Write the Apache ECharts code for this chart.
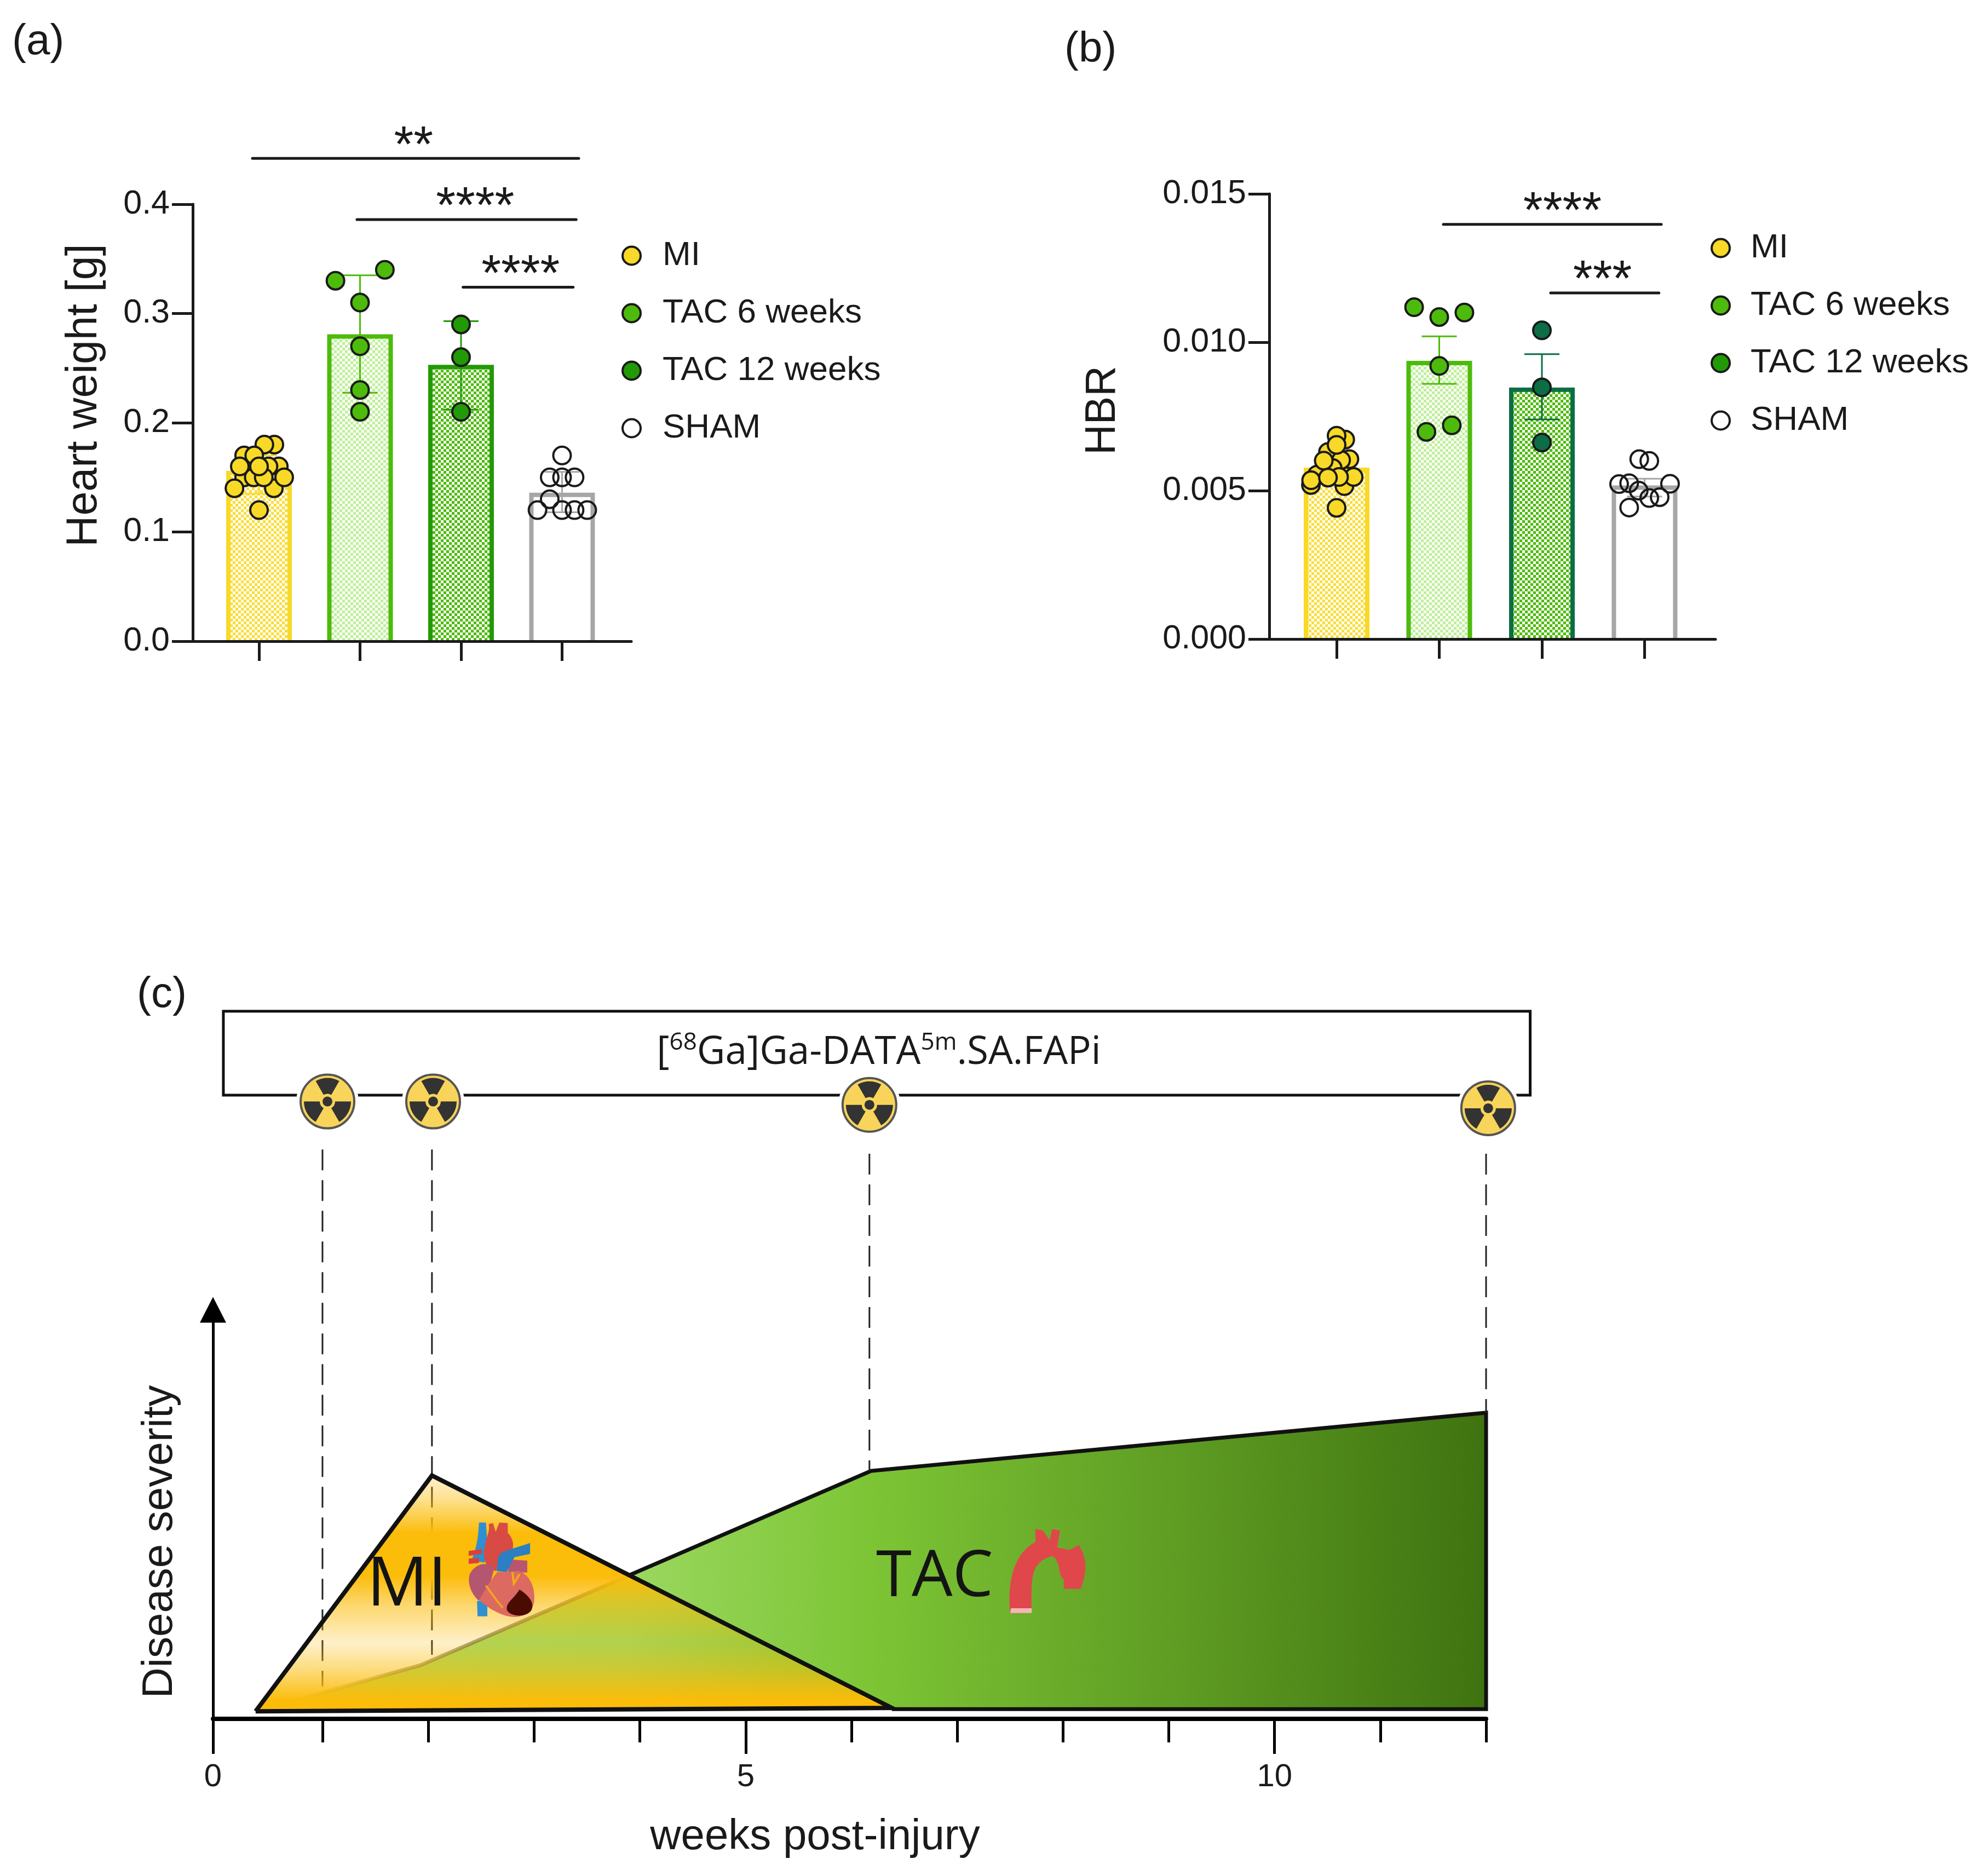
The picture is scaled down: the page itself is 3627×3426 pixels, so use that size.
<!DOCTYPE html>
<html><head><meta charset="utf-8">
<style>html,body{margin:0;padding:0;background:#fff}#c{width:3627px;height:3426px}</style>
<script src="https://cdn.jsdelivr.net/npm/echarts@6/dist/echarts.min.js"></script>
</head><body><div id="c"></div>
<script>
// ---------- data ----------
const groupNames = ['MI', 'TAC 6 weeks', 'TAC 12 weeks', 'SHAM'];
const groupX = [1, 2, 3, 4];

const heartMeans = [0.154, 0.279, 0.251, 0.134];
const heartLow = [0.135, 0.2275, 0.212, 0.118];
const heartHigh = [0.17, 0.335, 0.293, 0.155];
const heartMI = [[1.147,0.14],[1.196,0.16],[1.094,0.16],[0.853,0.15],[0.948,0.15],[1.047,0.15],[1.249,0.15],[1.152,0.18],[1.053,0.18],[0.853,0.17],[0.953,0.17],[0.81,0.16],[1.0,0.16],[0.757,0.14],[1.0,0.12]];
const heartTAC6 = [[1.757,0.33],[2.246,0.34],[2,0.31],[2,0.27],[2,0.23],[2,0.21]];
const heartTAC12 = [[3,0.29],[3,0.26],[3,0.21]];
const heartSHAM = [[4,0.17],[3.878,0.15],[4,0.15],[4.124,0.15],[3.878,0.13],[3.757,0.12],[4,0.12],[4.124,0.12],[4.249,0.12]];

const hbrMeans = [0.0057, 0.0093, 0.0084, 0.0051];
const hbrLow = [0.0054, 0.0086, 0.0074, 0.0048];
const hbrHigh = [0.006, 0.0102, 0.0096, 0.0054];
const hbrMI = [[0.75,0.00519],[1.076,0.00515],[1.166,0.00546],[1.125,0.00606],[1.084,0.00672],[0.916,0.0063],[1.044,0.00603],[0.962,0.00576],[0.81,0.00554],[1,0.00685],[1,0.00654],[0.875,0.00601],[1.024,0.00546],[0.752,0.00535],[0.916,0.00544],[1,0.00442]];
const hbrTAC6 = [[1.755,0.01118],[2,0.01085],[2.245,0.011],[2,0.0092],[1.875,0.00698],[2.122,0.0072]];
const hbrTAC12 = [[3,0.0104],[3,0.00848],[3,0.00662]];
const hbrSHAM = [[3.948,0.00606],[4.046,0.006],[4.248,0.00523],[3.752,0.00522],[3.85,0.00525],[3.943,0.005],[4.046,0.00475],[4.147,0.00478],[3.85,0.00443]];

const heartSig = [[0.935,4.165,0.442,2.53,'**'],[1.97,4.14,0.386,3.14,'****'],[3.02,4.11,0.324,3.59,'****']];
const hbrSig = [[2.04,4.163,0.01397,3.2,'****'],[3.085,4.14,0.01166,3.59,'***']];

const miCurve = [[0.367,1.8],[2.034,57.7],[6.382,2.6],[0.367,1.8]];
const tacCurve = [[0.367,1.8],[1.925,12.7],[6.185,58.8],[12,72.6],[12,2.3],[6.382,2.3]];
const doseWeeks = [0.999, 2.034, 6.17, 12];
const doseTop = [135, 135, 134, 134];
const doseBottom = [7.7, 15.2, 58.8, 72.6];
const iconWeeks = [1.046, 2.045, 6.17, 12.02];
const iconSeverity = [146.4, 146.4, 145.6, 144.8];
const boxWeeks = [0.062, 12.417];
const boxSeverity = [147.9, 167.8];
const weekAxisStart = -0.036;
const weekMajor = [weekAxisStart, 5, 10];
const weekMinor = [1, 2, 3, 4, 6, 7, 8, 9, 11, 12];

// ---------- styling helpers ----------
const FONT = '"Liberation Sans", Arial, sans-serif';
const INK = '#1a1a1a';
const colors = {MI:'#F8D927', T6:'#4DBB0B', T12:'#229A06', T12b:'#0B6E45', SHAM:'#A6A6A6'};

function checker(fg) {
  const s = 5, cv = document.createElement('canvas');
  cv.width = cv.height = s * 2;
  const g = cv.getContext('2d');
  g.fillStyle = '#fff'; g.fillRect(0, 0, s * 2, s * 2);
  g.fillStyle = fg; g.fillRect(0, 0, s, s); g.fillRect(s, s, s, s);
  return {image: cv, repeat: 'repeat'};
}
const fills = [checker('#F9DE3A'), checker('#BFF09A'), checker('#4DBB0B'), '#ffffff'];

function barSeries(idx, means) {
  return {
    type: 'bar', name: 'bars' + idx, xAxisIndex: idx, yAxisIndex: idx, barWidth: 112, z: 1,
    data: means.map((v, i) => ({value: [groupX[i], v], itemStyle: {color: fills[i]}}))
  };
}
// three-sided bar outline: the bars have no baseline edge in the figure
function outlineSeries(idx, means, edgeColors) {
  return {
    type: 'custom', name: 'outline' + idx, xAxisIndex: idx, yAxisIndex: idx, z: 2,
    data: means.map((v, i) => [groupX[i], v]),
    encode: {x: 0, y: 1},
    renderItem(params, api) {
      const t = api.coord([api.value(0), api.value(1)]), b = api.coord([api.value(0), 0]);
      return {type: 'polyline', shape: {points: [[t[0] - 56, b[1]], [t[0] - 56, t[1]], [t[0] + 56, t[1]], [t[0] + 56, b[1]]]},
        style: {fill: 'none', stroke: edgeColors[params.dataIndex], lineWidth: 8}};
    }
  };
}
function errSeries(idx, lows, highs, edgeColors) {
  return {
    type: 'custom', name: 'error' + idx, xAxisIndex: idx, yAxisIndex: idx, z: 3,
    data: lows.map((l, i) => [groupX[i], l, highs[i]]),
    encode: {x: 0, y: [1, 2]},
    renderItem(params, api) {
      const x = api.value(0), a = api.coord([x, api.value(1)]), b = api.coord([x, api.value(2)]);
      const style = {stroke: edgeColors[params.dataIndex], lineWidth: 3, fill: 'none'};
      const seg = (x1, y1, x2, y2) => ({type: 'line', shape: {x1, y1, x2, y2}, style});
      return {type: 'group', children: [
        seg(a[0], a[1], b[0], b[1]),
        seg(a[0] - 32, a[1], a[0] + 32, a[1]),
        seg(b[0] - 32, b[1], b[0] + 32, b[1])
      ]};
    }
  };
}
function sigSeries(idx, rows) {
  return {
    type: 'custom', name: 'sig' + idx, xAxisIndex: idx, yAxisIndex: idx, z: 5, silent: true, clip: false,
    data: rows.map(r => r.slice(0, 4)),
    encode: {x: 0, y: 2},
    renderItem(params, api) {
      const y = api.value(2);
      const a = api.coord([api.value(0), y]), b = api.coord([api.value(1), y]), s = api.coord([api.value(3), y]);
      return {type: 'group', children: [
        {type: 'line', shape: {x1: a[0], y1: a[1], x2: b[0], y2: b[1]}, style: {stroke: INK, lineWidth: 5, lineCap: 'round'}},
        {type: 'text', style: {text: rows[params.dataIndex][4], x: s[0], y: a[1] - 20, fill: INK,
          font: '92px ' + FONT, align: 'center', verticalAlign: 'middle'}}
      ]};
    }
  };
}
function pointSeries(idx, name, data, color) {
  return {
    type: 'scatter', name, xAxisIndex: idx, yAxisIndex: idx, data, z: 4, symbol: 'circle', symbolSize: 32,
    itemStyle: {color, borderColor: INK, borderWidth: 4, opacity: 1}
  };
}
function panelAxes(idx, yMax, yStep, digits, nameText, nameFont, nameGap, namePad, xMin, xMax) {
  return {
    x: {
      type: 'value', gridIndex: idx, min: xMin, max: xMax, splitLine: {show: false}, z: 6,
      axisLine: {show: true, lineStyle: {color: INK, width: 5}},
      axisTick: {show: true, length: 36, customValues: groupX, lineStyle: {color: INK, width: 5}},
      axisLabel: {show: false}
    },
    y: {
      type: 'value', gridIndex: idx, min: 0, max: yMax, interval: yStep, splitLine: {show: false},
      name: nameText, nameLocation: 'middle', nameGap,
      nameTextStyle: {fontFamily: FONT, fontSize: nameFont, color: INK, padding: namePad},
      axisLine: {show: true, onZero: false, lineStyle: {color: INK, width: 5}},
      axisTick: {show: true, length: 38, lineStyle: {color: INK, width: 5}},
      axisLabel: {fontFamily: FONT, fontSize: 61, color: INK, margin: 42, formatter: v => v.toFixed(digits)}
    }
  };
}
const pa = panelAxes(0, 0.4, 0.1, 1, 'Heart weight [g]', 79, 158, [0, 0, 0, 100], 0.344, 4.686);
const pb = panelAxes(1, 0.015, 0.005, 3, 'HBR', 77, 265, [0, 0, 0, 22], 0.344, 4.691);

function legendAt(left, top, pad) {
  return {
    left, top, orient: 'vertical', icon: 'circle', itemWidth: 33, itemHeight: 33, itemGap: 43,
    selectedMode: false, data: groupNames,
    textStyle: {fontFamily: FONT, fontSize: 62, color: INK, padding: [0, 0, 0, pad]},
    itemStyle: {borderColor: INK, borderWidth: 4}
  };
}

const aEdges = [colors.MI, colors.T6, colors.T12, colors.SHAM];
const bEdges = [colors.MI, colors.T6, colors.T12b, colors.SHAM];
const orange = a => 'rgba(251,188,10,' + a + ')';

// Freehand illustrations (heart and aortic arch) drawn as vector paths.
const heartParts = [
  ['M728,780 L765,780 L765,860 L730,860 Z', '#2F8FD0'],
  ['M735,372 L760,372 C762,430 770,500 755,580 L708,570 C728,500 733,440 735,372 Z', '#2F8FD0'],
  ['M698,520 L745,510 L745,535 L698,545 Z M698,560 L735,555 L735,582 L698,587 Z', '#D9413A'],
  ['M770,380 L785,375 L795,420 L808,372 L838,375 L838,425 C862,460 862,510 847,530 L805,600 L795,625 C755,600 745,560 758,480 C763,440 775,420 770,380 Z', '#D84A44'],
  ['M702,640 C720,585 765,570 790,610 L775,690 L735,780 C708,745 692,690 702,640 Z', '#B4566F'],
  ['M850,565 L908,570 L908,632 L838,632 Z', '#B8566F'],
  ['M918,478 L918,535 L862,552 L835,630 L798,625 L803,560 C808,515 850,515 918,478 Z', '#2C7FC2'],
  ['M770,690 L800,630 L880,625 C922,650 938,720 932,790 C922,852 880,868 850,862 C800,852 760,805 735,775 Z', '#DC6A60'],
  ['M880,720 C912,750 937,790 922,830 C902,868 850,862 836,830 C828,790 860,770 880,720 Z', '#4A0B00']
];
const aortaParts = [
  ['M955,755 L978,755 C978,650 975,600 1000,578 C1010,600 1005,640 1012,650 L1012,680 L1030,680 C1035,640 1038,600 1030,555 L1028,545 L1018,560 L1005,552 L1008,500 L1000,495 L997,530 L990,500 L982,495 L982,535 C960,570 952,650 955,755 Z', '#E0474A'],
  ['M956,740 L978,740 L978,755 L955,755 Z', '#F4B6B6']
];
function illustration(name, anchor, sx, sy, parts, extra) {
  return {
    type: 'custom', name, xAxisIndex: 2, yAxisIndex: 2, z: 8, clip: false, silent: true,
    data: [anchor], encode: {x: 0, y: 1},
    renderItem(params, api) {
      const o = api.coord([api.value(0), api.value(1)]);
      const children = parts.map(p => ({type: 'path', shape: {pathData: p[0]}, style: {fill: p[1]}}));
      if (extra) children.push({type: 'path', shape: {pathData: extra}, style: {fill: 'none', stroke: '#F2A71B', lineWidth: 8}});
      return {type: 'group', x: o[0], y: o[1], scaleX: sx, scaleY: sy, children};
    }
  };
}

const option = {
  animation: false,
  backgroundColor: '#ffffff',
  title: [
    {text: '(a)', left: 22, top: 38, padding: 0, textStyle: {fontFamily: FONT, fontSize: 78, fontWeight: 'normal', color: INK}},
    {text: '(b)', left: 1944, top: 52, padding: 0, textStyle: {fontFamily: FONT, fontSize: 78, fontWeight: 'normal', color: INK}},
    {text: '(c)', left: 250, top: 1778, padding: 0, textStyle: {fontFamily: FONT, fontSize: 78, fontWeight: 'normal', color: INK}},
    {text: '{n|[}{s|68}{n|Ga]Ga-DATA}{s|5m}{n|.SA.FAPi}', left: 1605, top: 1882, padding: 0, textAlign: 'center',
      textStyle: {fontWeight: 'normal', rich: {
        n: {fontFamily: '"Open Sans"', fontWeight: 'normal', fontSize: 71, color: INK, lineHeight: 76, verticalAlign: 'bottom'},
        s: {fontFamily: '"Open Sans"', fontWeight: 'normal', fontSize: 44, color: INK, lineHeight: 52, verticalAlign: 'top'}
      }}}
  ],
  legend: [legendAt(1130, 431, 35), legendAt(3119, 417, 33)],
  grid: [
    {left: 352, top: 373, width: 801, height: 798},
    {left: 2318, top: 354, width: 815, height: 813},
    {left: 389, top: 2392, width: 2325, height: 747}
  ],
  xAxis: [
    pa.x, pb.x,
    {type: 'value', gridIndex: 2, min: weekAxisStart, max: 12, position: 'bottom', splitLine: {show: false},
      name: 'weeks post-injury', nameLocation: 'middle', nameGap: 177,
      nameTextStyle: {fontFamily: FONT, fontSize: 78, color: INK, padding: [0, 126, 0, 0]},
      axisLine: {show: true, onZero: false, lineStyle: {color: '#000', width: 8}},
      axisTick: {show: true, length: 64, customValues: weekMajor, lineStyle: {color: '#000', width: 5}},
      axisLabel: {show: true, customValues: weekMajor, fontFamily: FONT, fontSize: 58, color: INK, margin: 78, formatter: v => String(Math.round(v))}},
    {type: 'value', gridIndex: 2, min: weekAxisStart, max: 12, position: 'bottom', splitLine: {show: false},
      axisLine: {show: false, onZero: false},
      axisTick: {show: true, length: 43, customValues: weekMinor, lineStyle: {color: '#000', width: 5}},
      axisLabel: {show: false}}
  ],
  yAxis: [
    pa.y, pb.y,
    {type: 'value', gridIndex: 2, min: 0, max: 97, splitLine: {show: false},
      name: 'Disease severity', nameLocation: 'middle', nameGap: 58,
      nameTextStyle: {fontFamily: FONT, fontSize: 78, color: INK, padding: [0, 100, 0, 0]},
      axisLine: {show: true, onZero: false, symbol: ['none', 'triangle'], symbolSize: [48, 47], lineStyle: {color: '#000', width: 5}},
      axisTick: {show: false}, axisLabel: {show: false}}
  ],
  series: [
    barSeries(0, heartMeans),
    outlineSeries(0, heartMeans, aEdges),
    errSeries(0, heartLow, heartHigh, aEdges),
    pointSeries(0, groupNames[0], heartMI, colors.MI),
    pointSeries(0, groupNames[1], heartTAC6, colors.T6),
    pointSeries(0, groupNames[2], heartTAC12, colors.T12),
    pointSeries(0, groupNames[3], heartSHAM, 'rgba(255,255,255,0)'),
    sigSeries(0, heartSig),

    barSeries(1, hbrMeans),
    outlineSeries(1, hbrMeans, bEdges),
    errSeries(1, hbrLow, hbrHigh, bEdges),
    pointSeries(1, groupNames[0], hbrMI, colors.MI),
    pointSeries(1, groupNames[1], hbrTAC6, colors.T6),
    pointSeries(1, groupNames[2], hbrTAC12, colors.T12b),
    pointSeries(1, groupNames[3], hbrSHAM, 'rgba(255,255,255,0)'),
    sigSeries(1, hbrSig),

    {type: 'line', name: 'TAC', xAxisIndex: 2, yAxisIndex: 2, z: 2, data: tacCurve, showSymbol: false, symbol: 'none', clip: false,
      lineStyle: {width: 7, join: 'miter', color: {type: 'linear', x: 0, y: 0, x2: 1, y2: 0, colorStops: [
        {offset: 0, color: 'rgba(110,100,70,0.05)'}, {offset: 0.12, color: 'rgba(100,90,60,0.55)'},
        {offset: 0.295, color: 'rgba(110,100,70,0.8)'}, {offset: 0.305, color: '#111'}, {offset: 1, color: '#111'}
      ]}},
      areaStyle: {origin: 2.3, opacity: 1, color: {type: 'linear', x: 0, y: 0, x2: 1, y2: 0, colorStops: [
        {offset: 0, color: '#A2DC6A'}, {offset: 0.3, color: '#9BD860'}, {offset: 0.5, color: '#7DC535'}, {offset: 1, color: '#3F7310'}
      ]}}},
    {type: 'custom', name: 'dose lines', xAxisIndex: 2, yAxisIndex: 2, z: 3, clip: false, silent: true,
      data: doseWeeks.map((w, i) => [w, doseTop[i], doseBottom[i]]),
      encode: {x: 0, y: [1, 2]},
      renderItem(params, api) {
        const a = api.coord([api.value(0), api.value(1)]), b = api.coord([api.value(0), api.value(2)]);
        return {type: 'line', shape: {x1: a[0], y1: a[1], x2: b[0], y2: b[1]}, style: {stroke: '#222', lineWidth: 3, lineDash: [38, 18]}};
      }},
    {type: 'line', name: 'MI curve', xAxisIndex: 2, yAxisIndex: 2, z: 4, data: miCurve, showSymbol: false, symbol: 'none', clip: false,
      lineStyle: {color: '#111', width: 8, join: 'miter'},
      areaStyle: {origin: 2.2, opacity: 1, color: {type: 'linear', x: 0, y: 0, x2: 0, y2: 1, colorStops: [
        {offset: 0, color: orange(0.2)}, {offset: 0.1, color: orange(0.45)}, {offset: 0.245, color: orange(1)},
        {offset: 0.425, color: orange(1)}, {offset: 0.547, color: orange(0.6)}, {offset: 0.71, color: orange(0.22)},
        {offset: 0.83, color: orange(0.55)}, {offset: 0.955, color: orange(1)}, {offset: 1, color: orange(1)}
      ]}}},
    {type: 'custom', name: 'tracer box', xAxisIndex: 2, yAxisIndex: 2, z: 5, clip: false, silent: true,
      data: [[boxWeeks[0], boxSeverity[0], boxWeeks[1], boxSeverity[1]]],
      encode: {x: [0, 2], y: [1, 3]},
      renderItem(params, api) {
        const a = api.coord([api.value(0), api.value(1)]), b = api.coord([api.value(2), api.value(3)]);
        return {type: 'rect', shape: {x: a[0], y: b[1], width: b[0] - a[0], height: a[1] - b[1]}, style: {fill: 'none', stroke: '#111', lineWidth: 5}};
      }},
    {type: 'custom', name: 'tracer doses', xAxisIndex: 2, yAxisIndex: 2, z: 6, clip: false, silent: true,
      data: iconWeeks.map((w, i) => [w, iconSeverity[i]]),
      encode: {x: 0, y: 1},
      renderItem(params, api) {
        const c = api.coord([api.value(0), api.value(1)]), cx = c[0], cy = c[1];
        const blade = deg => ({type: 'sector', shape: {cx, cy, r: 43, r0: 14, startAngle: (deg - 30) * Math.PI / 180, endAngle: (deg + 30) * Math.PI / 180}, style: {fill: '#333'}});
        return {type: 'group', children: [
          {type: 'circle', shape: {cx, cy, r: 57}, style: {fill: '#fff'}},
          {type: 'circle', shape: {cx, cy, r: 49}, style: {fill: '#F8D45A', stroke: '#555', lineWidth: 4}},
          blade(-90), blade(30), blade(150),
          {type: 'circle', shape: {cx, cy, r: 9}, style: {fill: '#333'}}
        ]};
      }},
    illustration('heart', [0.538, 63.5], 0.51, 0.351, heartParts, 'M855,630 L860,690 L880,640 M760,700 L800,780 L820,815'),
    illustration('aorta', [-1.014, 83], 1.722, 0.5907, aortaParts)
  ],
  graphic: [
    {type: 'text', z: 50, x: 670, y: 2835, style: {text: 'MI', font: '124px "Open Sans"', fill: '#141414'}},
    {type: 'text', z: 50, x: 1600, y: 2822, style: {text: 'TAC', font: '118px "Open Sans"', fill: '#141414'}}
  ]
};
const chart = echarts.init(document.getElementById('c'), null, {renderer: 'canvas', width: 3627, height: 3426, devicePixelRatio: 1});
chart.setOption(option);
</script></body></html>
